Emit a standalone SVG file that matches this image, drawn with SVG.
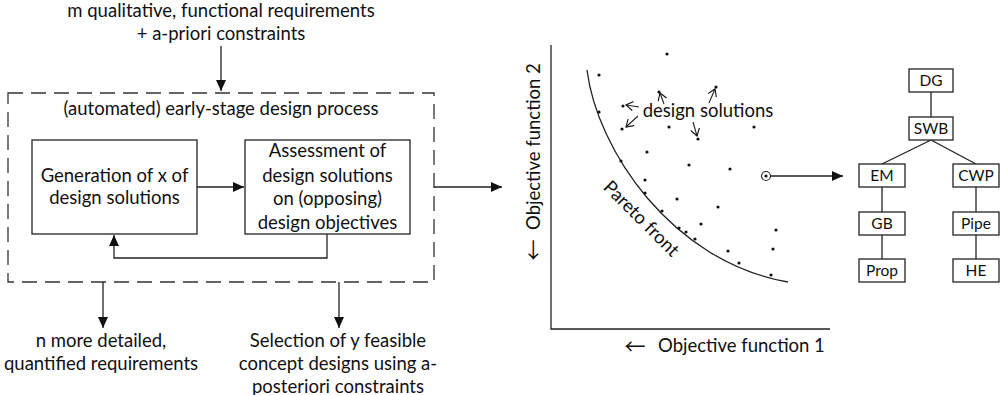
<svg xmlns="http://www.w3.org/2000/svg" width="1000" height="395" viewBox="0 0 1000 395">
<style>
text{font-family:Lato,"Open Sans","DejaVu Sans",sans-serif;font-size:18.5px;fill:#111;}
.c{text-anchor:middle;}
.t{font-size:15.5px;}
.ar{font-family:"Noto Sans CJK JP","Noto Sans CJK SC",sans-serif;font-size:21px;}
.ln{stroke:#222;stroke-width:1.3;fill:none;}
.box{stroke:#222;stroke-width:1.3;fill:#fff;}
.dash{stroke:#333;stroke-width:1.3;fill:none;stroke-dasharray:15 8;}
.thin{stroke:#222;stroke-width:1.1;fill:none;}
.dot{fill:#111;}
</style>
<defs>
<marker id="ah" markerUnits="userSpaceOnUse" markerWidth="12" markerHeight="10" refX="11" refY="5" orient="auto">
<path d="M0,0 L11,5 L0,10 Z" fill="#111"/>
</marker>
<marker id="oh" markerUnits="userSpaceOnUse" markerWidth="10" markerHeight="10" refX="8" refY="5" orient="auto">
<path d="M1,0.5 L8,5 L1,9.5" fill="none" stroke="#111" stroke-width="1.1"/>
</marker>
</defs>

<g id="input-text">
<text class="c" x="221" y="17">m qualitative, functional requirements</text>
<text class="c" x="221" y="40">+ a-priori constraints</text>
</g>

<g id="process">
<rect class="dash" x="8" y="93" width="426" height="189"/>
<text class="c" x="221" y="115">(automated) early-stage design process</text>
</g>

<g id="generation">
<rect class="box" x="32" y="140" width="165" height="94"/>
<text class="c" x="114.5" y="181.5">Generation of x of</text>
<text class="c" x="114.5" y="204">design solutions</text>
</g>

<g id="assessment">
<rect class="box" x="245" y="140" width="165" height="94"/>
<text class="c" x="327.5" y="157">Assessment of</text>
<text class="c" x="327.5" y="181.5">design solutions</text>
<text class="c" x="327.5" y="204.5">on (opposing)</text>
<text class="c" x="327.5" y="228.5">design objectives</text>
</g>

<g id="output-texts">
<text class="c" x="101" y="347">n more detailed,</text>
<text class="c" x="101" y="370">quantified requirements</text>
<text class="c" x="338" y="347">Selection of y feasible</text>
<text class="c" x="338" y="370">concept designs using a-</text>
<text class="c" x="338" y="393">posteriori constraints</text>
</g>

<g id="connectors">
<line class="ln" x1="221" y1="46" x2="221" y2="91" marker-end="url(#ah)"/>
<line class="ln" x1="197" y1="187" x2="244" y2="187" marker-end="url(#ah)"/>
<polyline class="ln" points="327,234 327,258 114,258 114,235" marker-end="url(#ah)"/>
<line class="ln" x1="434" y1="187" x2="502" y2="187" marker-end="url(#ah)"/>
<line class="ln" x1="103" y1="282" x2="103" y2="328" marker-end="url(#ah)"/>
<line class="ln" x1="339" y1="282" x2="339" y2="328" marker-end="url(#ah)"/>
<line class="ln" x1="771" y1="176" x2="843" y2="176" marker-end="url(#ah)"/>
<line class="ln" x1="931" y1="92" x2="931" y2="117"/>
<line class="ln" x1="931" y1="140" x2="882" y2="164"/>
<line class="ln" x1="931" y1="140" x2="976" y2="164"/>
<line class="ln" x1="882" y1="187" x2="882" y2="212"/>
<line class="ln" x1="882" y1="235" x2="882" y2="259"/>
<line class="ln" x1="976" y1="187" x2="976" y2="212"/>
<line class="ln" x1="976" y1="235" x2="976" y2="259"/>
</g>

<g id="plot">
<polyline class="ln" points="551,45 551,329 830,329"/>
<text class="ar c" transform="translate(541,250) rotate(-90)">←</text>
<text transform="translate(539.5,230) rotate(-90)">Objective function 2</text>
<text class="ar c" x="635" y="354">←</text>
<text x="658" y="352">Objective function 1</text>
<path class="ln" d="M587,70 C597,150 672,262 788,282"/>
<text class="c" transform="translate(637,223) rotate(45)">Pareto front</text>
<text class="c" x="708" y="117">design solutions</text>
<line class="thin" x1="639" y1="107" x2="626" y2="105" marker-end="url(#oh)"/>
<line class="thin" x1="638" y1="116" x2="626" y2="127" marker-end="url(#oh)"/>
<line class="thin" x1="664" y1="104" x2="660" y2="93" marker-end="url(#oh)"/>
<line class="thin" x1="709" y1="103" x2="715" y2="89" marker-end="url(#oh)"/>
<line class="thin" x1="693" y1="122" x2="697" y2="136" marker-end="url(#oh)"/>
<g class="dot">
<circle cx="667" cy="54" r="1.6"/>
<circle cx="599" cy="75" r="1.6"/>
<circle cx="659" cy="92" r="1.6"/>
<circle cx="599" cy="112" r="1.6"/>
<circle cx="623" cy="106" r="1.6"/>
<circle cx="622" cy="129" r="1.6"/>
<circle cx="669" cy="127" r="1.6"/>
<circle cx="647" cy="152" r="1.6"/>
<circle cx="716" cy="87" r="1.6"/>
<circle cx="698" cy="139" r="1.6"/>
<circle cx="754" cy="127" r="1.6"/>
<circle cx="621" cy="161" r="1.6"/>
<circle cx="689" cy="165" r="1.6"/>
<circle cx="730" cy="169" r="1.6"/>
<circle cx="645" cy="180" r="1.6"/>
<circle cx="645" cy="193" r="1.6"/>
<circle cx="677" cy="199" r="1.6"/>
<circle cx="718" cy="207" r="1.6"/>
<circle cx="662" cy="211" r="1.6"/>
<circle cx="701" cy="224" r="1.6"/>
<circle cx="679" cy="228" r="1.6"/>
<circle cx="686" cy="232" r="1.6"/>
<circle cx="695" cy="239" r="1.6"/>
<circle cx="776" cy="230" r="1.6"/>
<circle cx="773" cy="249" r="1.6"/>
<circle cx="728" cy="251" r="1.6"/>
<circle cx="739" cy="263" r="1.6"/>
<circle cx="771" cy="275" r="1.6"/>
<circle cx="766" cy="176" r="1.6"/>
</g>
<circle class="thin" cx="766" cy="176" r="4.5"/>
</g>

<g id="DG"><rect class="box" x="909" y="69" width="44" height="23"/><text class="c t" x="931" y="86">DG</text></g>
<g id="SWB"><rect class="box" x="909" y="117" width="44" height="23"/><text class="c t" x="931" y="134">SWB</text></g>
<g id="EM"><rect class="box" x="859" y="164" width="46" height="23"/><text class="c t" x="882" y="181">EM</text></g>
<g id="CWP"><rect class="box" x="953" y="164" width="46" height="23"/><text class="c t" x="976" y="181">CWP</text></g>
<g id="GB"><rect class="box" x="859" y="212" width="46" height="23"/><text class="c t" x="882" y="229">GB</text></g>
<g id="Pipe"><rect class="box" x="953" y="212" width="46" height="23"/><text class="c t" x="976" y="229">Pipe</text></g>
<g id="Prop"><rect class="box" x="859" y="259" width="46" height="23"/><text class="c t" x="882" y="276">Prop</text></g>
<g id="HE"><rect class="box" x="953" y="259" width="46" height="23"/><text class="c t" x="976" y="276">HE</text></g>
</svg>
